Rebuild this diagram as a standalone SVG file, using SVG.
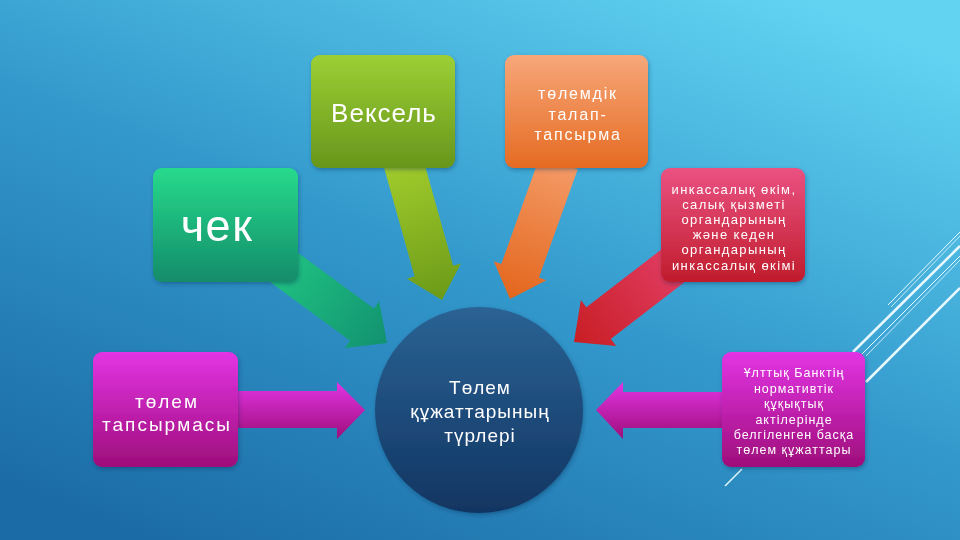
<svg xmlns="http://www.w3.org/2000/svg" width="960" height="540" viewBox="0 0 960 540">
<defs>
<linearGradient id="bg" x1="0.15" y1="1" x2="0.85" y2="0">
<stop offset="0" stop-color="#1b6ca6"/>
<stop offset="0.5" stop-color="#3399cc"/>
<stop offset="1" stop-color="#62d4f2"/>
</linearGradient>
<linearGradient id="gGreen" x1="0" y1="0" x2="0" y2="1"><stop offset="0" stop-color="#9ccf34"/><stop offset="1" stop-color="#67961c"/></linearGradient>
<linearGradient id="gOrange" x1="0" y1="0" x2="0" y2="1"><stop offset="0" stop-color="#f7a77a"/><stop offset="1" stop-color="#e56b22"/></linearGradient>
<linearGradient id="gTeal" x1="0" y1="0" x2="0" y2="1"><stop offset="0" stop-color="#27da8c"/><stop offset="1" stop-color="#138c6a"/></linearGradient>
<linearGradient id="gRed" x1="0" y1="0" x2="0" y2="1"><stop offset="0" stop-color="#ea5282"/><stop offset="1" stop-color="#c01c2c"/></linearGradient>
<linearGradient id="gMag" x1="0" y1="0" x2="0" y2="1"><stop offset="0" stop-color="#e234e4"/><stop offset="1" stop-color="#9e0e7a"/></linearGradient>
<linearGradient id="gCircle" x1="0" y1="0" x2="0" y2="1"><stop offset="0" stop-color="#2a6394"/><stop offset="1" stop-color="#113562"/></linearGradient>
<linearGradient id="aGreen" x1="0" y1="0" x2="1" y2="0"><stop offset="0" stop-color="#a2cc2c"/><stop offset="1" stop-color="#6b9a18"/></linearGradient>
<linearGradient id="aOrange" x1="0" y1="0" x2="1" y2="0"><stop offset="0" stop-color="#f49a66"/><stop offset="1" stop-color="#e3661c"/></linearGradient>
<linearGradient id="aTeal" x1="0" y1="0" x2="1" y2="0"><stop offset="0" stop-color="#20c282"/><stop offset="1" stop-color="#129270"/></linearGradient>
<linearGradient id="aRed" x1="0" y1="0" x2="1" y2="0"><stop offset="0" stop-color="#e03c62"/><stop offset="1" stop-color="#c81e24"/></linearGradient>
<filter id="sh" x="-10%" y="-10%" width="125%" height="130%">
<feDropShadow dx="1" dy="2" stdDeviation="2" flood-color="#0a2a50" flood-opacity="0.35"/>
</filter>
</defs>
<style>
.t{font-family:"Liberation Sans","DejaVu Sans",sans-serif;fill:#ffffff;text-anchor:middle}
.s{font-size:13px;letter-spacing:1.4px}
.u{font-size:12.5px;letter-spacing:1px}
.deco{stroke:#e8f8ff;fill:none}
</style>
<rect width="960" height="540" fill="url(#bg)"/>

<g id="decor">
<line class="deco" x1="888" y1="305" x2="960" y2="232" stroke-width="1"/>
<line class="deco" x1="891" y1="307" x2="960" y2="236" stroke-width="0.8"/>
<line class="deco" x1="853" y1="352" x2="960" y2="246" stroke-width="2.5"/>
<line class="deco" x1="862" y1="354" x2="960" y2="256" stroke-width="1"/>
<line class="deco" x1="866" y1="356" x2="960" y2="260" stroke-width="0.8"/>
<line class="deco" x1="866" y1="382" x2="960" y2="288" stroke-width="2.5"/>
<line class="deco" x1="725" y1="486" x2="742" y2="469" stroke-width="1.5"/>
</g>

<g id="connectors">
<polygon transform="translate(442,300) rotate(74.3)" fill="url(#aGreen)" points="-145,-20 -30,-20 -30,-28 0,0 -30,28 -30,20 -145,20"/>
<polygon transform="translate(510,299) rotate(109.7)" fill="url(#aOrange)" points="-145,-20 -30,-20 -30,-28 0,0 -30,28 -30,20 -145,20"/>
<polygon transform="translate(387,343) rotate(36.3)" fill="url(#aTeal)" points="-135,-20 -31,-20 -31,-29 0,0 -31,29 -31,20 -135,20"/>
<polygon transform="translate(574,342) rotate(142.4)" fill="url(#aRed)" points="-130,-20 -31,-20 -31,-29 0,0 -31,29 -31,20 -130,20"/>
<polygon fill="url(#gMag)" points="230,391 337,391 337,382 365,410 337,439 337,428 230,428"/>
<polygon fill="url(#gMag)" points="730,392 623,392 623,382 596,410 623,439 623,428 730,428"/>
</g>

<g id="center" filter="url(#sh)">
<ellipse cx="479" cy="410" rx="104" ry="103" fill="url(#gCircle)"/>
<text class="t" font-size="19" letter-spacing="1" x="480" y="394">Төлем</text>
<text class="t" font-size="19" letter-spacing="1" x="480" y="418">құжаттарының</text>
<text class="t" font-size="19" letter-spacing="1" x="480" y="442">түрлері</text>
</g>

<g id="veksel" filter="url(#sh)">
<rect x="311" y="55" width="144" height="113" rx="9" fill="url(#gGreen)"/>
<text class="t" font-size="26" letter-spacing="1" x="384" y="122">Вексель</text>
</g>

<g id="talap" filter="url(#sh)">
<rect x="505" y="55" width="143" height="113" rx="9" fill="url(#gOrange)"/>
<text class="t" font-size="16" letter-spacing="1.8" x="578" y="99">төлемдік</text>
<text class="t" font-size="16" letter-spacing="1.8" x="578" y="120">талап-</text>
<text class="t" font-size="16" letter-spacing="1.8" x="578" y="140">тапсырма</text>
</g>

<g id="chek" filter="url(#sh)">
<rect x="153" y="168" width="145" height="114" rx="9" fill="url(#gTeal)"/>
<text class="t" font-size="45" letter-spacing="1.5" x="217" y="241">чек</text>
</g>

<g id="inkasso" filter="url(#sh)">
<rect x="661" y="168" width="144" height="114" rx="9" fill="url(#gRed)"/>
<text class="t s" x="734" y="194">инкассалық өкім,</text>
<text class="t s" x="734" y="209">салық қызметі</text>
<text class="t s" x="734" y="224">органдарының</text>
<text class="t s" x="734" y="239">және кеден</text>
<text class="t s" x="734" y="254">органдарының</text>
<text class="t s" x="734" y="270">инкассалық өкімі</text>
</g>

<g id="tapsyrma" filter="url(#sh)">
<rect x="93" y="352" width="145" height="115" rx="9" fill="url(#gMag)"/>
<text class="t" font-size="19" letter-spacing="2" x="167" y="408">төлем</text>
<text class="t" font-size="19" letter-spacing="2" x="167" y="431">тапсырмасы</text>
</g>

<g id="ulttyq" filter="url(#sh)">
<rect x="722" y="352" width="143" height="115" rx="9" fill="url(#gMag)"/>
<text class="t u" x="794" y="377">Ұлттық Банктің</text>
<text class="t u" x="794" y="393">нормативтік</text>
<text class="t u" x="794" y="408">құқықтық</text>
<text class="t u" x="794" y="424">актілерінде</text>
<text class="t u" x="794" y="439">белгіленген басқа</text>
<text class="t u" x="794" y="454">төлем құжаттары</text>
</g>
</svg>
